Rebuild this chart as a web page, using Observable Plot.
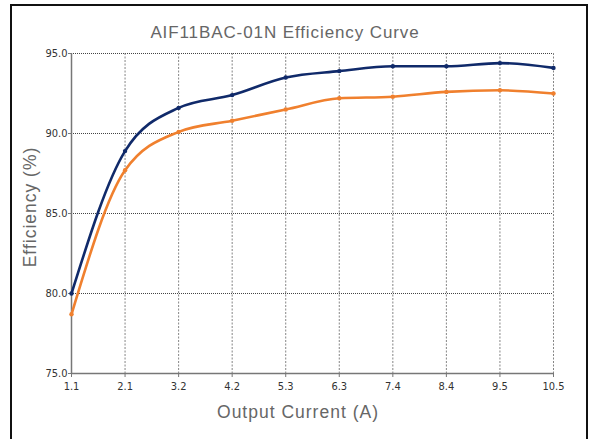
<!DOCTYPE html>
<html>
<head>
<meta charset="utf-8">
<script src="https://cdn.jsdelivr.net/npm/d3@7"></script>
<script src="https://cdn.jsdelivr.net/npm/@observablehq/plot@0.6"></script>
<style>
  html, body { margin: 0; padding: 0; background: #fff; }
  #chart { width: 591px; height: 439px; overflow: hidden; }
</style>
</head>
<body>
<div id="chart"></div>
<script>
const currents = ["1.1", "2.1", "3.2", "4.2", "5.3", "6.3", "7.4", "8.4", "9.5", "10.5"];
const effHigh = [80.0, 88.9, 91.6, 92.4, 93.5, 93.9, 94.2, 94.2, 94.4, 94.1];
const effLow  = [78.7, 87.7, 90.1, 90.8, 91.5, 92.2, 92.3, 92.6, 92.7, 92.5];
const yTicks = [75, 80, 85, 90, 95];
const seriesNames = ["High", "Low"];
const seriesColors = ["#102a6a", "#f0802e"];

const data = [];
currents.forEach((c, i) => {
  data.push({current: c, eff: effHigh[i], series: seriesNames[0]});
  data.push({current: c, eff: effLow[i], series: seriesNames[1]});
});

const W = 591, H = 439;
const tickFont = "'Liberation Sans Narrow', 'DejaVu Sans Condensed', sans-serif";

const chart = Plot.plot({
  width: W,
  height: H,
  marginLeft: 71,
  marginRight: 38,
  marginTop: 53,
  marginBottom: 66,
  style: {background: "transparent", fontFamily: tickFont, fontSize: "11px", color: "#333"},
  x: {type: "point", domain: currents, padding: 0, round: false, label: null},
  y: {domain: [75, 95], label: null},
  color: {domain: seriesNames, range: seriesColors},
  marks: [
    Plot.gridY(yTicks.filter(d => d > 75), {stroke: "#444", strokeOpacity: 1, strokeDasharray: "1,1", strokeWidth: 1}),
    Plot.gridX(currents.slice(1), {stroke: "#666", strokeOpacity: 1, strokeDasharray: "2,1.5", strokeWidth: 0.8}),
    Plot.axisY({ticks: yTicks, tickFormat: d => d.toFixed(1), tickSize: 3, stroke: "#777", tickPadding: 1, fontSize: 11, fill: "#333"}),
    Plot.axisX({ticks: currents, tickSize: 4, stroke: "#777", tickPadding: 5, fontSize: 11, fill: "#333"}),
    Plot.ruleX([currents[0]], {stroke: "#777", strokeWidth: 1.5}),
    Plot.ruleY([75], {stroke: "#777", strokeWidth: 1.5}),
    Plot.line(data, {x: "current", y: "eff", z: "series", stroke: "series", strokeWidth: 2.6, curve: "monotone-x"}),
    Plot.dot(data, {x: "current", y: "eff", fill: "series", r: 2.2})
  ]
});

const svg = d3.select(chart);
svg.append("rect")
  .attr("x", 11).attr("y", 5).attr("width", 576).attr("height", 460)
  .attr("fill", "none").attr("stroke", "#111").attr("stroke-width", 2);

const labelFont = "'Liberation Sans', Arial, sans-serif";
svg.append("text")
  .attr("x", 285).attr("y", 38)
  .attr("text-anchor", "middle")
  .attr("font-family", labelFont).attr("font-size", 17)
  .attr("letter-spacing", 0.9)
  .attr("fill", "#666")
  .text("AIF11BAC-01N Efficiency Curve");

svg.append("text")
  .attr("x", 298).attr("y", 418)
  .attr("text-anchor", "middle")
  .attr("font-family", labelFont).attr("font-size", 17.5)
  .attr("letter-spacing", 1)
  .attr("fill", "#666")
  .text("Output Current (A)");

svg.append("text")
  .attr("transform", "translate(36,207) rotate(-90)")
  .attr("text-anchor", "middle")
  .attr("font-family", labelFont).attr("font-size", 17.5)
  .attr("letter-spacing", 1)
  .attr("fill", "#666")
  .text("Efficiency (%)");

document.getElementById("chart").appendChild(chart);
</script>
</body>
</html>
